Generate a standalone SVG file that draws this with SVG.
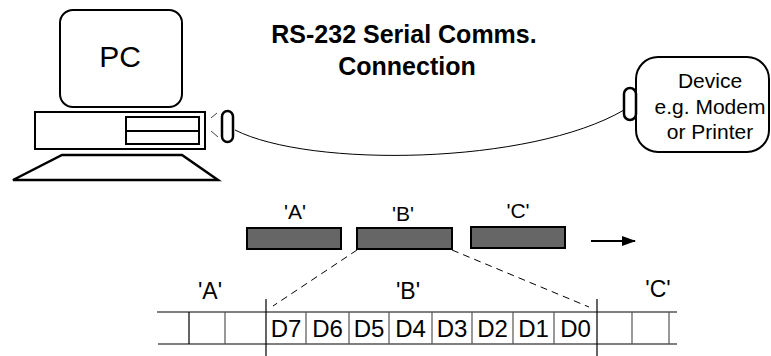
<svg xmlns="http://www.w3.org/2000/svg" width="771" height="356" viewBox="0 0 771 356">
  <defs>
    <style>
      text { font-family: "Liberation Sans", Arial, sans-serif; fill: #000; }
      .title { font-size: 25px; font-weight: bold; text-anchor: middle; }
      .lbl { font-size: 21px; text-anchor: middle; }
      .big { font-size: 23px; text-anchor: middle; }
      .bit { font-size: 24px; text-anchor: middle; }
      .thick { fill: #fff; stroke: #000; stroke-width: 2; }
      .plug { fill: #fff; stroke: #000; stroke-width: 2.5; }
      .packet { fill: #666; stroke: #000; stroke-width: 2; }
      .tape { stroke: #000; stroke-width: 1.2; fill: none; }
      .cell { stroke: #555; stroke-width: 1.2; fill: none; }
      .dash { stroke: #000; stroke-width: 1; stroke-dasharray: 7 5; fill: none; }
    </style>
    <marker id="head" markerWidth="14" markerHeight="10" refX="13" refY="5" orient="auto" markerUnits="userSpaceOnUse">
      <path d="M0,0 L14,5 L0,10 Z" fill="#000"/>
    </marker>
  </defs>

  <rect width="771" height="356" fill="#fff"/>

  <!-- title -->
  <g id="title">
    <text class="title" x="404" y="43">RS-232 Serial Comms.</text>
    <text class="title" x="407" y="75">Connection</text>
  </g>

  <!-- personal computer -->
  <g id="pc">
    <rect class="thick" x="60" y="10" width="122" height="97" rx="13"/>
    <text x="120" y="67" style="font-size:30px;text-anchor:middle">PC</text>
    <rect class="thick" x="35" y="112" width="170" height="37"/>
    <rect class="thick" x="126" y="117" width="73" height="14"/>
    <rect class="thick" x="126" y="131" width="73" height="13"/>
    <polygon points="62,155 182,155 218,180 13,180" fill="#fff" stroke="#000" stroke-width="2.5" stroke-linejoin="miter"/>
    <path d="M211,118 L217,113 M211,131 L218,137" stroke="#444" stroke-width="1" fill="none"/>
    <rect class="plug" x="222" y="111" width="11" height="31" rx="5.5"/>
  </g>

  <!-- peripheral device -->
  <g id="device">
    <rect class="thick" x="636" y="57" width="133" height="95" rx="22"/>
    <text class="lbl" x="710" y="88">Device</text>
    <text class="lbl" x="710" y="113.5">e.g. Modem</text>
    <text class="lbl" x="710" y="139">or Printer</text>
    <rect class="plug" x="624" y="88" width="12" height="32" rx="6"/>
  </g>

  <!-- characters on the line -->
  <g id="char-a">
    <text class="lbl" x="295" y="219">'A'</text>
    <rect class="packet" x="247" y="228" width="94" height="21"/>
  </g>
  <g id="char-b">
    <text class="lbl" x="403" y="221">'B'</text>
    <rect class="packet" x="357" y="228" width="95" height="21"/>
  </g>
  <g id="char-c">
    <text class="lbl" x="518" y="218">'C'</text>
    <rect class="packet" x="471" y="227" width="94" height="21"/>
  </g>

  <!-- bit frame -->
  <g id="frame">
    <path class="tape" d="M157,312 H677 M158,344 H677"/>
    <path class="tape" d="M189,312 V344 M266,299 V356 M597,299 V356"/>
    <path class="cell" d="M225,312 V344 M306,312 V344 M349,312 V344 M389,312 V344 M432,312 V344 M472,312 V344 M513,312 V344 M554,312 V344 M632,312 V344 M669,312 V344"/>
    <text class="big" x="210" y="299">'A'</text>
    <text class="big" x="408" y="299">'B'</text>
    <text class="big" x="658" y="297">'C'</text>
    <text class="bit" x="286" y="337">D7</text>
    <text class="bit" x="327.5" y="337">D6</text>
    <text class="bit" x="369" y="337">D5</text>
    <text class="bit" x="410.5" y="337">D4</text>
    <text class="bit" x="452" y="337">D3</text>
    <text class="bit" x="492.5" y="337">D2</text>
    <text class="bit" x="533.5" y="337">D1</text>
    <text class="bit" x="575.5" y="337">D0</text>
  </g>

  <!-- connectors -->
  <g id="connectors">
    <path d="M235,130 C310,168 530,165 624,110" stroke="#000" stroke-width="1" fill="none"/>
    <path class="dash" d="M357,250 L273,306"/>
    <path class="dash" d="M452,250 L589,307"/>
    <path d="M591,241 L635,241" stroke="#000" stroke-width="2" fill="none" marker-end="url(#head)"/>
  </g>
</svg>
